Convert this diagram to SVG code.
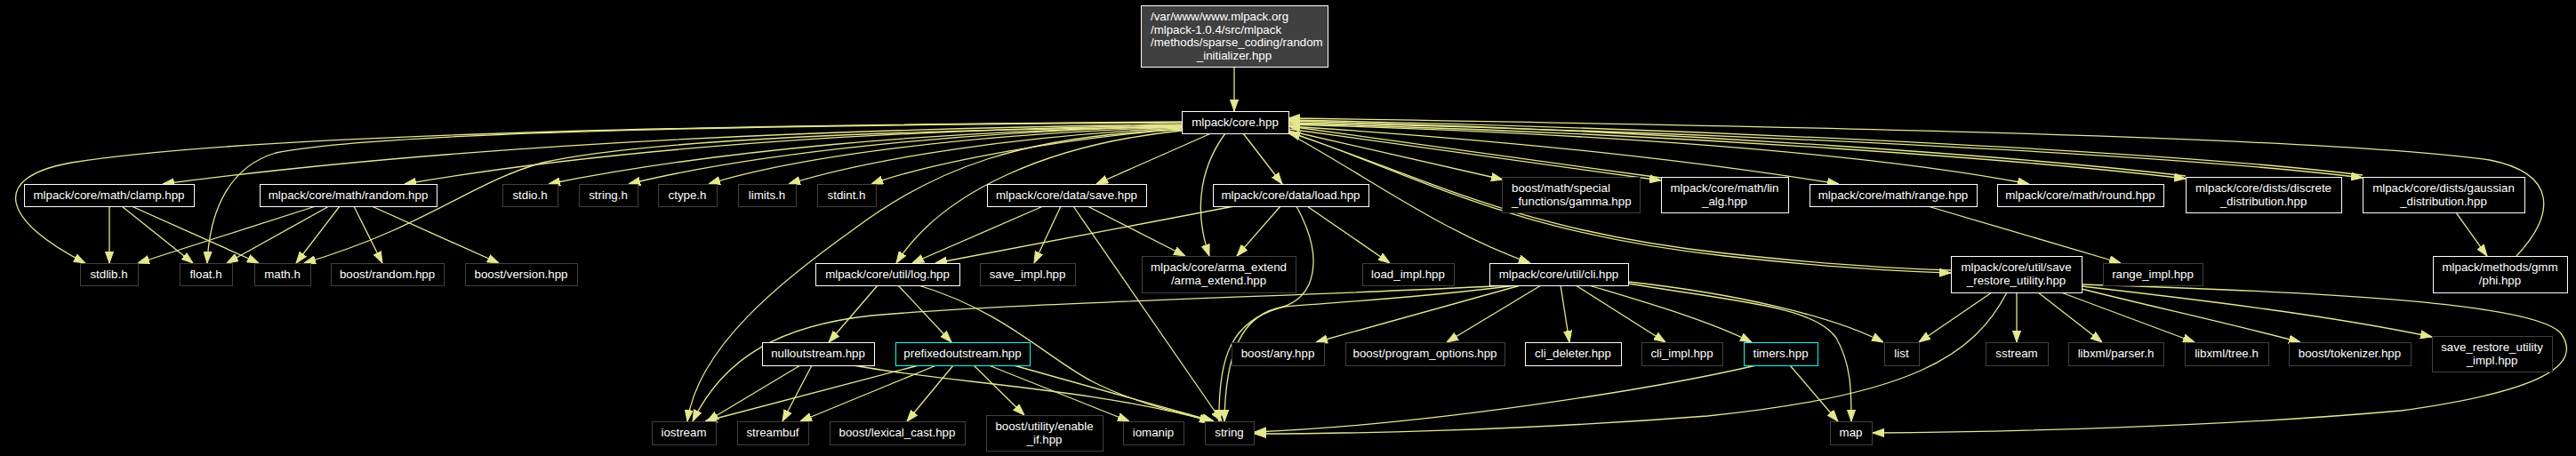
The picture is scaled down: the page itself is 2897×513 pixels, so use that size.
<svg xmlns="http://www.w3.org/2000/svg" width="2897" height="513" viewBox="0 0 2897 513">
<defs>
<style>
.bg{fill:#000}
.d{fill:#000;stroke:#ffffff;stroke-width:1}
.x{fill:#000;stroke:#404040;stroke-width:1}
.r{fill:#000;stroke:#00ffff;stroke-width:1}
.m{fill:#404040;stroke:#ffffff;stroke-width:1}
text{font-family:"Liberation Sans",Arial,Helvetica,sans-serif;font-size:13.3px;fill:#ffffff}
.c{text-anchor:middle}
.e path{fill:none;stroke:#e6e68f;stroke-width:1.3;marker-end:url(#ah)}
</style>
<marker id="ah" viewBox="0 0 13 10" refX="13" refY="5" markerWidth="13" markerHeight="10" orient="auto" markerUnits="userSpaceOnUse">
<path d="M0,0.4 L13,5 L0,9.6 z" fill="#e6e68f" stroke="#e6e68f" stroke-width="1"/>
</marker>
</defs>
<rect class="bg" x="0" y="0" width="2897" height="513"/>

<g id="edges" class="e">
<path d="M1388,75 L1388,125"/>
<path d="M1329,137 C900,140 300,148 80,183 C-15,200 5,250 96,296"/>
<path d="M1329,138 C800,141 420,150 310,172 C250,190 235,250 233,296"/>
<path d="M1329,140 C900,145 500,165 183,207"/>
<path d="M1329,141 C1000,146 700,165 455,207"/>
<path d="M1329,143 C1000,146 720,158 610,183 C530,205 480,255 342,296"/>
<path d="M1329,142 C1050,147 800,170 617,207"/>
<path d="M1329,142 C1080,148 850,172 707,207"/>
<path d="M1329,143 C1100,150 900,175 797,207"/>
<path d="M1329,144 C1150,152 980,178 887,207"/>
<path d="M1329,145 C1200,155 1050,182 980,207"/>
<path d="M1329,146 C1150,152 1050,190 960,258 C880,315 785,390 773,474"/>
<path d="M1329,147 C1180,162 1060,215 1008,296"/>
<path d="M1362,150 L1233,207"/>
<path d="M1378,150 C1345,195 1345,245 1360,288"/>
<path d="M1398,150 L1442,207"/>
<path d="M1449,147 L1690,202"/>
<path d="M1449,145 L1868,203"/>
<path d="M1868,200 L1449,142"/>
<path d="M1449,142 C1700,158 1900,180 2068,207"/>
<path d="M1449,140 C1800,150 2100,172 2282,207"/>
<path d="M1449,139 C1900,150 2300,182 2458,201"/>
<path d="M2458,198 C2300,179 1900,147 1449,136"/>
<path d="M1449,138 C1900,147 2450,174 2657,200"/>
<path d="M2657,197 C2450,171 1900,144 1449,135"/>
<path d="M2830,288 C2875,240 2875,195 2800,180 C2600,152 1900,140 1449,133"/>
<path d="M1449,148 C1600,200 1700,262 1940,288 C2050,300 2120,305 2194,307"/>
<path d="M2194,304 C2120,302 2050,297 1940,285 C1700,259 1600,197 1449,149"/>
<path d="M1449,150 C1540,200 1620,260 1721,296"/>
<path d="M123,232 L123,296"/>
<path d="M137,232 L217,296"/>
<path d="M148,232 L291,296"/>
<path d="M355,232 L155,296"/>
<path d="M370,232 L255,296"/>
<path d="M382,232 L333,296"/>
<path d="M398,232 L430,296"/>
<path d="M418,232 L561,296"/>
<path d="M1173,232 L1026,296"/>
<path d="M1193,232 L1163,296"/>
<path d="M1207,232 L1374,474"/>
<path d="M1223,232 L1333,288"/>
<path d="M1388,232 L1052,296"/>
<path d="M1440,232 L1391,288"/>
<path d="M1470,232 L1563,296"/>
<path d="M1458,232 C1490,290 1480,335 1440,346 C1385,362 1370,400 1371,474"/>
<path d="M2168,232 L2385,296"/>
<path d="M2762,239 L2797,288"/>
<path d="M987,321 L932,385"/>
<path d="M1010,321 L1070,385"/>
<path d="M1033,321 C1130,350 1180,405 1230,430 C1280,455 1330,465 1365,474"/>
<path d="M1697,321 C1500,332 1150,340 980,355 C880,366 815,400 779,474"/>
<path d="M1705,321 C1600,335 1500,340 1445,345 C1395,352 1378,400 1377,474"/>
<path d="M1710,321 L1480,385"/>
<path d="M1733,321 L1627,385"/>
<path d="M1755,321 L1765,385"/>
<path d="M1772,321 L1873,385"/>
<path d="M1787,321 C1850,340 1920,360 1970,385"/>
<path d="M1831,317 C1950,330 2060,355 2118,385"/>
<path d="M1831,319 C1960,340 2040,345 2065,380 C2082,410 2082,440 2082,474"/>
<path d="M2240,329 L2158,385"/>
<path d="M2268,329 L2268,385"/>
<path d="M2292,329 L2364,385"/>
<path d="M2318,329 L2468,385"/>
<path d="M2341,325 C2420,345 2500,362 2587,385"/>
<path d="M2341,322 C2480,338 2620,355 2735,379"/>
<path d="M2341,320 C2600,328 2850,340 2880,375 C2905,410 2860,440 2700,462 C2500,480 2250,486 2106,487"/>
<path d="M2257,329 C2220,400 2150,445 1920,468 C1700,485 1500,488 1411,488"/>
<path d="M900,411 L795,474"/>
<path d="M913,411 L880,474"/>
<path d="M960,411 C1060,430 1230,437 1362,474"/>
<path d="M1033,411 L793,474"/>
<path d="M1053,411 L900,474"/>
<path d="M1072,411 L1020,474"/>
<path d="M1095,411 L1152,467"/>
<path d="M1112,411 L1270,474"/>
<path d="M1140,411 L1365,474"/>
<path d="M2013,411 L2067,474"/>
<path d="M1975,411 C1850,440 1600,478 1411,486"/>
</g>

<g id="main"><rect class="m" x="1283.5" y="6.5" width="210" height="69"/>
<text x="1294" y="23">/var/www/www.mlpack.org</text>
<text x="1294" y="37.7">/mlpack-1.0.4/src/mlpack</text>
<text x="1294" y="52.4">/methods/sparse_coding/random</text>
<text class="c" x="1388" y="67">_initializer.hpp</text></g>

<g id="core"><rect class="d" x="1329.5" y="125.5" width="120" height="25"/><text class="c" x="1389" y="142">mlpack/core.hpp</text></g>

<g id="clamp"><rect class="d" x="27.5" y="207.5" width="191" height="25"/><text class="c" x="122.5" y="224">mlpack/core/math/clamp.hpp</text></g>
<g id="random"><rect class="d" x="292.5" y="207.5" width="199" height="25"/><text class="c" x="391.5" y="224">mlpack/core/math/random.hpp</text></g>
<g id="stdio"><rect class="x" x="565.5" y="207.5" width="62" height="25"/><text class="c" x="596" y="224">stdio.h</text></g>
<g id="stringh"><rect class="x" x="651.5" y="207.5" width="66" height="25"/><text class="c" x="684" y="224">string.h</text></g>
<g id="ctype"><rect class="x" x="740.5" y="207.5" width="66" height="25"/><text class="c" x="773" y="224">ctype.h</text></g>
<g id="limits"><rect class="x" x="830.5" y="207.5" width="65" height="25"/><text class="c" x="862.5" y="224">limits.h</text></g>
<g id="stdint"><rect class="x" x="919.5" y="207.5" width="66" height="25"/><text class="c" x="952" y="224">stdint.h</text></g>
<g id="save"><rect class="d" x="1110.5" y="207.5" width="179" height="25"/><text class="c" x="1199.5" y="224">mlpack/core/data/save.hpp</text></g>
<g id="load"><rect class="d" x="1364.5" y="207.5" width="175" height="25"/><text class="c" x="1451.5" y="224">mlpack/core/data/load.hpp</text></g>
<g id="gamma"><rect class="x" x="1689.5" y="199.5" width="155" height="40"/><text x="1700" y="216">boost/math/special</text><text x="1700" y="230.5">_functions/gamma.hpp</text></g>
<g id="linalg"><rect class="d" x="1868.5" y="199.5" width="143" height="40"/><text class="c" x="1939.5" y="216">mlpack/core/math/lin</text><text class="c" x="1939.5" y="230.5">_alg.hpp</text></g>
<g id="range"><rect class="d" x="2035.5" y="207.5" width="188" height="25"/><text class="c" x="2129" y="224">mlpack/core/math/range.hpp</text></g>
<g id="round"><rect class="d" x="2246.5" y="207.5" width="187" height="25"/><text class="c" x="2339.5" y="224">mlpack/core/math/round.hpp</text></g>
<g id="discrete"><rect class="d" x="2458.5" y="199.5" width="175" height="40"/><text class="c" x="2545.5" y="216">mlpack/core/dists/discrete</text><text class="c" x="2545.5" y="230.5">_distribution.hpp</text></g>
<g id="gaussian"><rect class="d" x="2657.5" y="199.5" width="182" height="40"/><text class="c" x="2748" y="216">mlpack/core/dists/gaussian</text><text class="c" x="2748" y="230.5">_distribution.hpp</text></g>

<g id="stdlib"><rect class="x" x="90.5" y="296.5" width="65" height="25"/><text class="c" x="122.5" y="313">stdlib.h</text></g>
<g id="float"><rect class="x" x="202.5" y="296.5" width="59" height="25"/><text class="c" x="231.5" y="313">float.h</text></g>
<g id="math"><rect class="x" x="286.5" y="296.5" width="63" height="25"/><text class="c" x="317.5" y="313">math.h</text></g>
<g id="boostrandom"><rect class="x" x="372.5" y="296.5" width="127" height="25"/><text class="c" x="435.5" y="313">boost/random.hpp</text></g>
<g id="boostversion"><rect class="x" x="523.5" y="296.5" width="126" height="25"/><text class="c" x="586" y="313">boost/version.hpp</text></g>
<g id="log"><rect class="d" x="917.5" y="296.5" width="162" height="25"/><text class="c" x="998" y="313">mlpack/core/util/log.hpp</text></g>
<g id="saveimpl"><rect class="x" x="1102.5" y="296.5" width="107" height="25"/><text class="c" x="1155.5" y="313">save_impl.hpp</text></g>
<g id="arma"><rect class="x" x="1284.5" y="288.5" width="173" height="41"/><text class="c" x="1370.5" y="305">mlpack/core/arma_extend</text><text class="c" x="1370.5" y="319.5">/arma_extend.hpp</text></g>
<g id="loadimpl"><rect class="x" x="1532.5" y="296.5" width="103" height="25"/><text class="c" x="1583.5" y="313">load_impl.hpp</text></g>
<g id="cli"><rect class="d" x="1675.5" y="296.5" width="156" height="25"/><text class="c" x="1753" y="313">mlpack/core/util/cli.hpp</text></g>
<g id="saverestore"><rect class="d" x="2194.5" y="288.5" width="147" height="41"/><text class="c" x="2267.5" y="305">mlpack/core/util/save</text><text class="c" x="2267.5" y="319.5">_restore_utility.hpp</text></g>
<g id="rangeimpl"><rect class="x" x="2365.5" y="296.5" width="112" height="25"/><text class="c" x="2421" y="313">range_impl.hpp</text></g>
<g id="phi"><rect class="d" x="2736.5" y="288.5" width="151" height="41"/><text class="c" x="2811.5" y="305">mlpack/methods/gmm</text><text class="c" x="2811.5" y="319.5">/phi.hpp</text></g>

<g id="nullout"><rect class="d" x="857.5" y="385.5" width="126" height="26"/><text class="c" x="920" y="402">nulloutstream.hpp</text></g>
<g id="prefixed"><rect class="r" x="1007.5" y="385.5" width="151" height="26"/><text class="c" x="1082.5" y="402">prefixedoutstream.hpp</text></g>
<g id="anyh"><rect class="x" x="1385.5" y="385.5" width="104" height="26"/><text class="c" x="1437" y="402">boost/any.hpp</text></g>
<g id="progopt"><rect class="x" x="1513.5" y="385.5" width="179" height="26"/><text class="c" x="1602.5" y="402">boost/program_options.hpp</text></g>
<g id="clideleter"><rect class="d" x="1715.5" y="385.5" width="108" height="26"/><text class="c" x="1769" y="402">cli_deleter.hpp</text></g>
<g id="cliimpl"><rect class="x" x="1846.5" y="385.5" width="91" height="26"/><text class="c" x="1891.5" y="402">cli_impl.hpp</text></g>
<g id="timers"><rect class="r" x="1961.5" y="385.5" width="83" height="26"/><text class="c" x="2002.5" y="402">timers.hpp</text></g>
<g id="list"><rect class="x" x="2119.5" y="385.5" width="39" height="26"/><text class="c" x="2138.5" y="402">list</text></g>
<g id="sstream"><rect class="x" x="2233.5" y="385.5" width="70" height="26"/><text class="c" x="2268" y="402">sstream</text></g>
<g id="parser"><rect class="x" x="2326.5" y="385.5" width="107" height="26"/><text class="c" x="2379.5" y="402">libxml/parser.h</text></g>
<g id="tree"><rect class="x" x="2457.5" y="385.5" width="94" height="26"/><text class="c" x="2504" y="402">libxml/tree.h</text></g>
<g id="tokenizer"><rect class="x" x="2574.5" y="385.5" width="137" height="26"/><text class="c" x="2642.5" y="402">boost/tokenizer.hpp</text></g>
<g id="sruimpl"><rect class="x" x="2735.5" y="378.5" width="135" height="40"/><text class="c" x="2802.5" y="395">save_restore_utility</text><text class="c" x="2802.5" y="409.5">_impl.hpp</text></g>

<g id="iostream"><rect class="x" x="733.5" y="474.5" width="72" height="26"/><text class="c" x="769" y="491">iostream</text></g>
<g id="streambuf"><rect class="x" x="829.5" y="474.5" width="80" height="26"/><text class="c" x="869" y="491">streambuf</text></g>
<g id="lexcast"><rect class="x" x="933.5" y="474.5" width="152" height="26"/><text class="c" x="1009" y="491">boost/lexical_cast.hpp</text></g>
<g id="enableif"><rect class="x" x="1109.5" y="467.5" width="131" height="40"/><text class="c" x="1174.5" y="484">boost/utility/enable</text><text class="c" x="1174.5" y="498.5">_if.hpp</text></g>
<g id="iomanip"><rect class="x" x="1263.5" y="474.5" width="68" height="26"/><text class="c" x="1297" y="491">iomanip</text></g>
<g id="string"><rect class="x" x="1355.5" y="474.5" width="55" height="26"/><text class="c" x="1382.5" y="491">string</text></g>
<g id="map"><rect class="x" x="2058.5" y="474.5" width="47" height="26"/><text class="c" x="2081.5" y="491">map</text></g>
</svg>
